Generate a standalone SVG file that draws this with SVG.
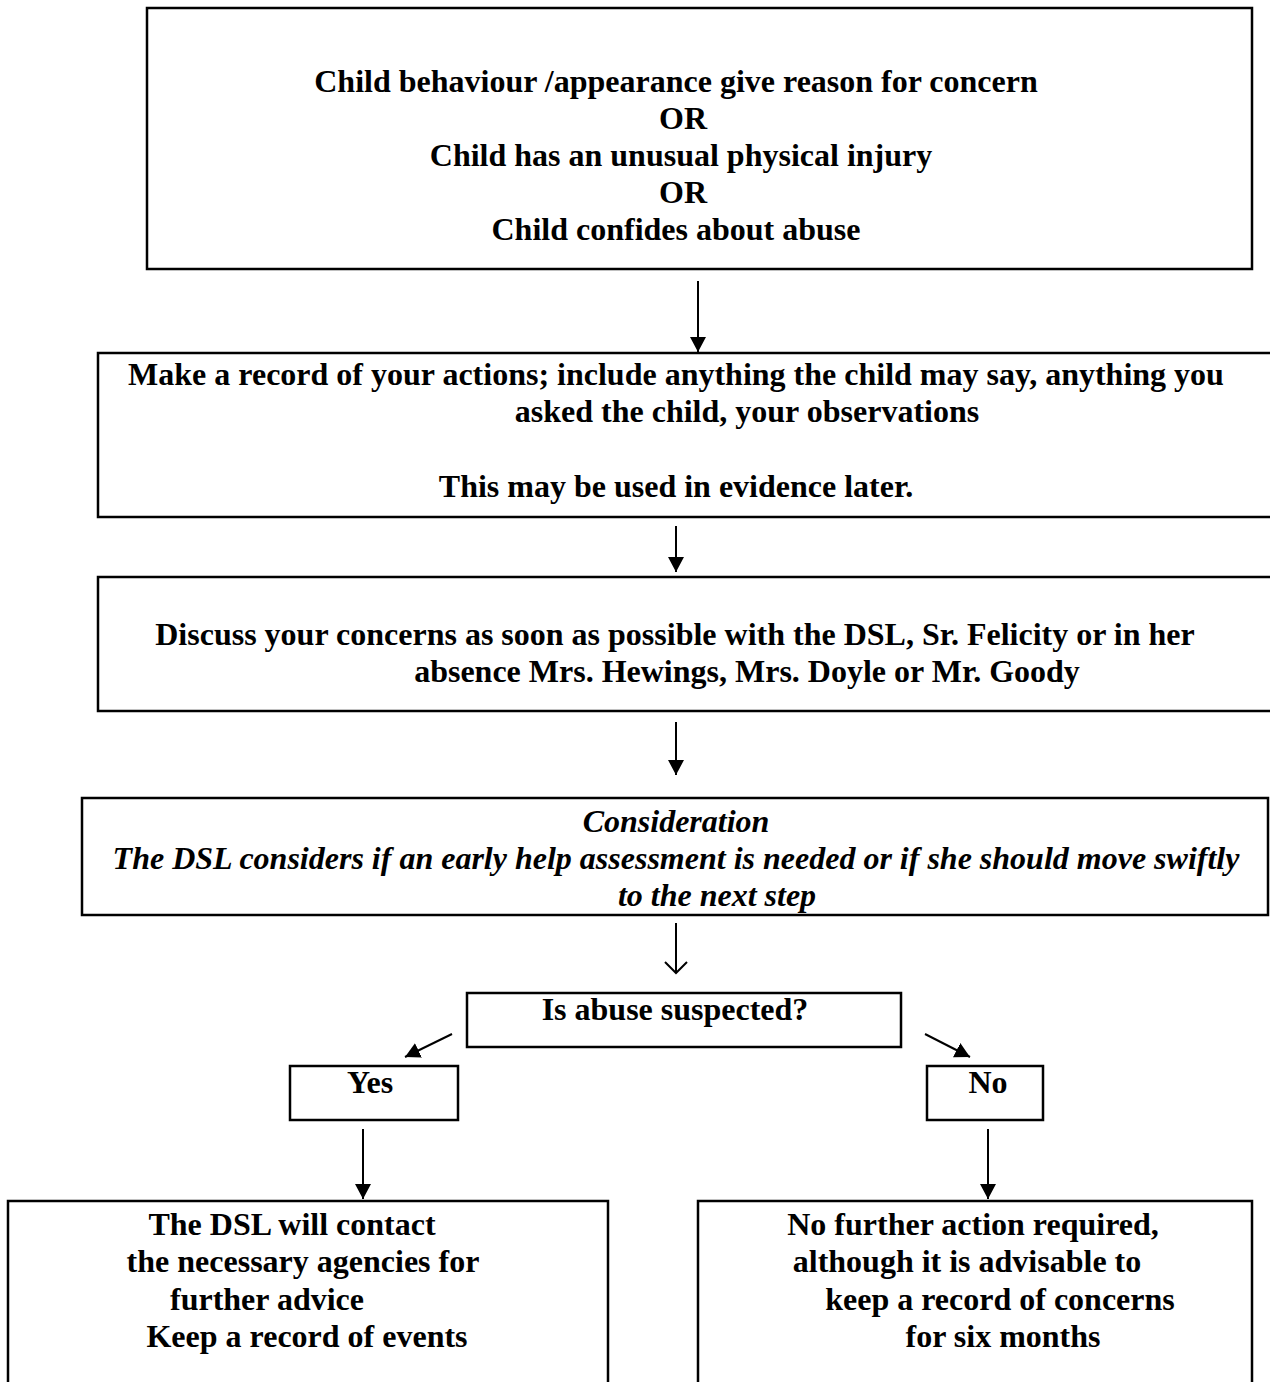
<svg xmlns="http://www.w3.org/2000/svg" width="1270" height="1382" viewBox="0 0 1270 1382">
<style>
.box{fill:#fff;stroke:#000;stroke-width:2.5}
.t{font-family:"Liberation Serif","Times New Roman",serif;font-weight:bold;font-size:32px;fill:#000;text-anchor:middle}
.i{font-style:italic}
.c{stroke:#000;stroke-width:2;fill:none}
</style>
<defs>
<marker id="ah" viewBox="0 0 15 16" refX="15" refY="8" markerWidth="15" markerHeight="16" markerUnits="userSpaceOnUse" orient="auto">
<path d="M0,0 L15,8 L0,16 Z" fill="#000"/>
</marker>
</defs>
<rect width="1270" height="1382" fill="#fff"/>
<g id="n1">
<rect class="box" x="147" y="8" width="1105" height="261"/>
<text class="t" x="676" y="92">Child behaviour /appearance give reason for concern</text>
<text class="t" x="683" y="129">OR</text>
<text class="t" x="681" y="166">Child has an unusual physical injury</text>
<text class="t" x="683" y="203">OR</text>
<text class="t" x="676" y="240">Child confides about abuse</text>
</g>
<g id="n2">
<rect class="box" x="98" y="353" width="1190" height="164"/>
<text class="t" x="676" y="385">Make a record of your actions; include anything the child may say, anything you</text>
<text class="t" x="747" y="422">asked the child, your observations</text>
<text class="t" x="676" y="497">This may be used in evidence later.</text>
</g>
<g id="n3">
<rect class="box" x="98" y="577" width="1190" height="134"/>
<text class="t" x="675" y="645">Discuss your concerns as soon as possible with the DSL, Sr. Felicity or in her</text>
<text class="t" x="747" y="682">absence Mrs. Hewings, Mrs. Doyle or Mr. Goody</text>
</g>
<g id="n4">
<rect class="box" x="82" y="798" width="1186" height="117"/>
<text class="t i" x="676" y="832">Consideration</text>
<text class="t i" x="676" y="869">The DSL considers if an early help assessment is needed or if she should move swiftly</text>
<text class="t i" x="717" y="906">to the next step</text>
</g>
<g id="n5">
<rect class="box" x="467" y="993" width="434" height="54"/>
<text class="t" x="675" y="1020">Is abuse suspected?</text>
</g>
<g id="n6">
<rect class="box" x="290" y="1066" width="168" height="54"/>
<text class="t" x="370" y="1093">Yes</text>
</g>
<g id="n7">
<rect class="box" x="927" y="1066" width="116" height="54"/>
<text class="t" x="988" y="1093">No</text>
</g>
<g id="n8">
<rect class="box" x="8" y="1201" width="600" height="200"/>
<text class="t" x="292" y="1235">The DSL will contact</text>
<text class="t" x="303" y="1272">the necessary agencies for</text>
<text class="t" x="267" y="1310">further advice</text>
<text class="t" x="307" y="1347">Keep a record of events</text>
</g>
<g id="n9">
<rect class="box" x="698" y="1201" width="554" height="200"/>
<text class="t" x="973" y="1235">No further action required,</text>
<text class="t" x="967" y="1272">although it is advisable to</text>
<text class="t" x="1000" y="1310">keep a record of concerns</text>
<text class="t" x="1003" y="1347">for six months</text>
</g>
<g id="connectors">
<line class="c" x1="698" y1="281" x2="698" y2="352" marker-end="url(#ah)"/>
<line class="c" x1="676" y1="526" x2="676" y2="572" marker-end="url(#ah)"/>
<line class="c" x1="676" y1="722" x2="676" y2="775" marker-end="url(#ah)"/>
<line class="c" x1="676" y1="923" x2="676" y2="973"/>
<path class="c" d="M665,962 L676,973 L687,962"/>
<line class="c" x1="452" y1="1034" x2="405" y2="1057" marker-end="url(#ah)"/>
<line class="c" x1="925" y1="1034" x2="970" y2="1057" marker-end="url(#ah)"/>
<line class="c" x1="363" y1="1129" x2="363" y2="1199" marker-end="url(#ah)"/>
<line class="c" x1="988" y1="1129" x2="988" y2="1199" marker-end="url(#ah)"/>
</g>
</svg>
